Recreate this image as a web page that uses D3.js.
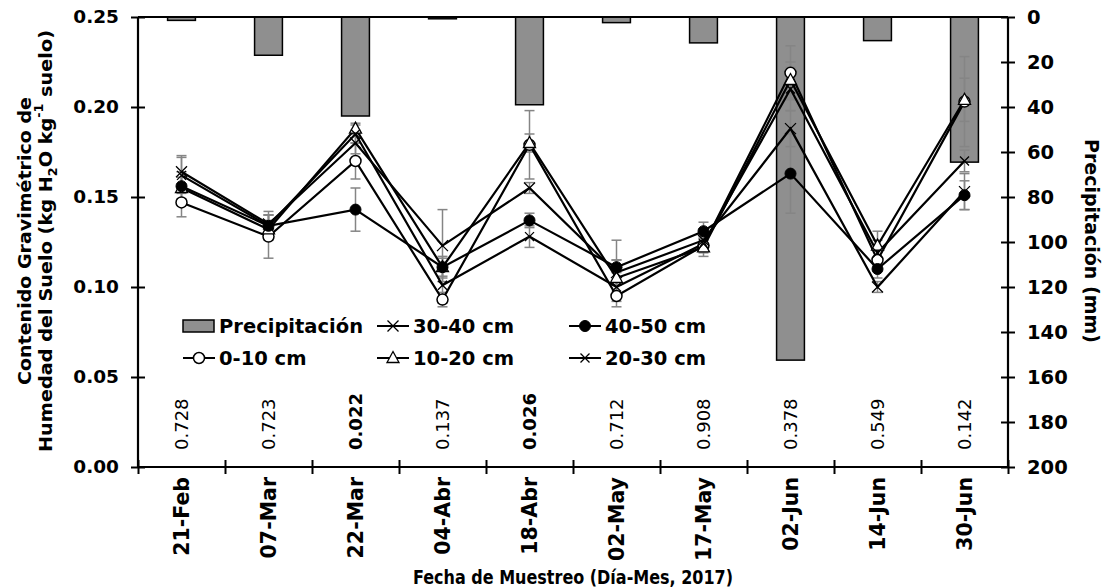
<!DOCTYPE html>
<html><head><meta charset="utf-8">
<script src="https://cdn.jsdelivr.net/npm/d3@7"></script>
<style>
body{margin:0;background:#fff;}
text{font-family:"DejaVu Sans",Verdana,sans-serif;}
</style></head>
<body><svg id="c" width="1107" height="588"></svg>
<script>
const categories = ["21-Feb","07-Mar","22-Mar","04-Abr","18-Abr","02-May","17-May","02-Jun","14-Jun","30-Jun"];
const precip = [1.5, 17, 44, 0.8, 39, 2.5, 11.5, 152.5, 10.5, 64.5];
const pValues = ["0.728","0.723","0.022","0.137","0.026","0.712","0.908","0.378","0.549","0.142"];
const s0_10  = [0.147,0.128,0.170,0.093,0.179,0.095,0.123,0.219,0.115,0.203];
const s10_20 = [0.155,0.132,0.188,0.111,0.180,0.105,0.122,0.215,0.123,0.204];
const s20_30 = [0.162,0.134,0.185,0.101,0.128,0.100,0.124,0.210,0.119,0.170];
const s30_40 = [0.164,0.135,0.180,0.123,0.155,0.108,0.126,0.188,0.100,0.153];
const s40_50 = [0.156,0.134,0.143,0.111,0.137,0.111,0.131,0.163,0.110,0.151];
const e0_10  = [0.008,0.012,0.010,0.004,0.019,0.006,0.004,0.015,0.006,0.025];
const e10_20 = [0.006,0.005,0.003,0.006,0.005,0.010,0.005,0.010,0.008,0.012];
const e20_30 = [0.010,0.006,0.005,0.010,0.006,0.008,0.004,0.012,0.007,0.006];
const e30_40 = [0.009,0.005,0.006,0.020,0.003,0.007,0.006,0.010,0.003,0.010];
const e40_50 = [0.008,0.008,0.012,0.005,0.004,0.015,0.005,0.022,0.005,0.008];
const leftTicks = [0,0.05,0.10,0.15,0.20,0.25];
const rightTicks = [0,20,40,60,80,100,120,140,160,180,200];

const series = [
  {name:"0-10 cm", v:s0_10, e:e0_10, m:"ocircle"},
  {name:"10-20 cm", v:s10_20, e:e10_20, m:"otri"},
  {name:"20-30 cm", v:s20_30, e:e20_30, m:"xsmall"},
  {name:"30-40 cm", v:s30_40, e:e30_40, m:"xbig"},
  {name:"40-50 cm", v:s40_50, e:e40_50, m:"fcircle"}
];

const L=138, R=1008, T=17, B=467;
const svg = d3.select("#c");
const x = d3.scaleBand().domain(categories).range([L,R]).padding(0);
const xb = d3.scaleLinear().domain([0,categories.length]).range([L,R]);
const y = d3.scaleLinear().domain([0,0.25]).range([B,T]);
const y2 = d3.scaleLinear().domain([0,200]).range([T,B]);
const cx = d => x(d)+x.bandwidth()/2;

// bars
const bw = x.bandwidth()*0.32;
svg.append("g").selectAll("rect").data(categories).join("rect")
  .attr("x", (d)=>cx(d)-bw/2).attr("y", y2(0))
  .attr("width", bw).attr("height", (d,i)=>y2(precip[i])-y2(0))
  .attr("fill","#8f8f8f").attr("stroke","#000").attr("stroke-width",1.5);

// top border
svg.append("line").attr("x1",L).attr("x2",R).attr("y1",T).attr("y2",T).attr("stroke","#000").attr("stroke-width",2);

// p-values
svg.append("g").selectAll("text").data(categories).join("text")
  .attr("transform",(d)=>`translate(${cx(d)},450) rotate(-90)`)
  .attr("text-anchor","start").attr("dominant-baseline","central")
  .attr("font-size",18).attr("fill","#000")
  .attr("font-weight",(d,i)=>+pValues[i]<0.05?"bold":"normal")
  .text((d,i)=>pValues[i]);

// error bars
const eg = svg.append("g");
series.forEach(s=>{
  categories.forEach((c,i)=>{
    const X=cx(c), y1=y(s.v[i]-s.e[i]), yt=y(s.v[i]+s.e[i]);
    eg.append("line").attr("x1",X).attr("x2",X).attr("y1",y1).attr("y2",yt).attr("stroke","#858585").attr("stroke-width",1.5);
    [y1,yt].forEach(yy=>eg.append("line").attr("x1",X-5).attr("x2",X+5).attr("y1",yy).attr("y2",yy).attr("stroke","#858585").attr("stroke-width",1.5));
  });
});

// lines
const line = d3.line().x((d,i)=>cx(categories[i])).y(d=>y(d));
series.forEach(s=>{
  svg.append("path").datum(s.v).attr("d",line).attr("fill","none").attr("stroke","#000").attr("stroke-width",2.2);
});

function marker(g, type, X, Y){
  if(type==="ocircle") g.append("circle").attr("cx",X).attr("cy",Y).attr("r",5.5).attr("fill","#fff").attr("stroke","#000").attr("stroke-width",1.5);
  else if(type==="fcircle") g.append("circle").attr("cx",X).attr("cy",Y).attr("r",5.5).attr("fill","#000").attr("stroke","#000").attr("stroke-width",1);
  else if(type==="otri") g.append("path").attr("d",`M${X},${Y-6.5}L${X+6},${Y+4.5}L${X-6},${Y+4.5}Z`).attr("fill","#fff").attr("stroke","#000").attr("stroke-width",1.3);
  else {
    const h = type==="xbig"?5.5:4.5;
    g.append("path").attr("d",`M${X-h},${Y-h}L${X+h},${Y+h}M${X-h},${Y+h}L${X+h},${Y-h}`).attr("stroke","#000").attr("stroke-width",1.3).attr("fill","none");
  }
}
const mg = svg.append("g");
series.forEach(s=>{ s.v.forEach((v,i)=>marker(mg,s.m,cx(categories[i]),y(v))); });

// axes
const ax = svg.append("g").attr("transform",`translate(${L},0)`)
  .call(d3.axisLeft(y).tickValues(leftTicks).tickFormat(d3.format(".2f")).tickSize(7).tickPadding(12));
ax.selectAll(".tick line").attr("x1",-7).attr("x2",7).attr("stroke-width",2);
ax.select(".domain").attr("d",`M0,${T}V${B}`).attr("stroke-width",2.2);
ax.selectAll("text").attr("font-size",18.5).attr("font-weight","bold").attr("font-family","DejaVu Sans").attr("fill","#000");

const ar = svg.append("g").attr("transform",`translate(${R},0)`)
  .call(d3.axisRight(y2).tickValues(rightTicks).tickFormat(d3.format("d")).tickSize(7).tickPadding(12));
ar.selectAll(".tick line").attr("x1",-7).attr("x2",7).attr("stroke-width",2);
ar.select(".domain").attr("d",`M0,${T}V${B}`).attr("stroke-width",2.2);
ar.selectAll("text").attr("font-size",19.5).attr("font-weight","bold").attr("font-family","DejaVu Sans").attr("fill","#000");

const abt = svg.append("g").attr("transform",`translate(0,${B})`)
  .call(d3.axisBottom(xb).tickValues(d3.range(categories.length+1)).tickFormat("").tickSize(7));
abt.selectAll(".tick line").attr("y1",-7).attr("y2",7).attr("stroke-width",2);
abt.select(".domain").attr("d",`M${L},0H${R}`).attr("stroke-width",2.2);

const abl = svg.append("g").attr("transform",`translate(0,${B})`)
  .call(d3.axisBottom(x).tickSize(0).tickPadding(0));
abl.select(".domain").remove();
abl.selectAll("text").attr("font-size",20.5).attr("font-weight","bold").attr("font-family","DejaVu Sans").attr("fill","#000")
  .attr("transform","translate(0,10) rotate(-90)").attr("text-anchor","end").attr("dy","0.35em").attr("x",0).attr("y",0);

// titles
const lt = svg.append("text").attr("transform","translate(25,241) rotate(-90)").attr("text-anchor","middle")
  .attr("font-size",17.5).attr("font-weight","bold").attr("dominant-baseline","central")
  .attr("textLength",288).attr("lengthAdjust","spacingAndGlyphs");
lt.text("Contenido Gravimétrico de");
const lt2 = svg.append("text").attr("transform","translate(46,241) rotate(-90)").attr("text-anchor","middle")
  .attr("font-size",17.5).attr("font-weight","bold").attr("dominant-baseline","central")
  .attr("textLength",422).attr("lengthAdjust","spacingAndGlyphs");
lt2.append("tspan").text("Humedad del Suelo (kg H");
lt2.append("tspan").attr("font-size",11.5).attr("baseline-shift","sub").text("2");
lt2.append("tspan").text("O kg");
lt2.append("tspan").attr("font-size",11.5).attr("baseline-shift","super").text("-1");
lt2.append("tspan").text(" suelo)");

svg.append("text").attr("transform","translate(1092,241) rotate(90)").attr("text-anchor","middle")
  .attr("font-size",19).attr("font-weight","bold").attr("dominant-baseline","central").text("Precipitación (mm)");

svg.append("text").attr("x",573).attr("y",577).attr("text-anchor","middle").attr("dominant-baseline","central")
  .attr("font-size",19).attr("font-weight","bold").attr("textLength",320).attr("lengthAdjust","spacingAndGlyphs")
  .text("Fecha de Muestreo (Día-Mes, 2017)");

// legend
const lg = svg.append("g");
const legItems = [
  {t:"Precipitación", m:"bar", x:183, y:326},
  {t:"30-40 cm", m:"xbig", x:377, y:326},
  {t:"40-50 cm", m:"fcircle", x:569, y:326},
  {t:"0-10 cm", m:"ocircle", x:183, y:358},
  {t:"10-20 cm", m:"otri", x:377, y:358},
  {t:"20-30 cm", m:"xsmall", x:569, y:358}
];
legItems.forEach(it=>{
  if(it.m==="bar"){
    lg.append("rect").attr("x",it.x).attr("y",it.y-6).attr("width",31).attr("height",12).attr("fill","#8f8f8f").attr("stroke","#000").attr("stroke-width",1.5);
  } else {
    lg.append("line").attr("x1",it.x).attr("x2",it.x+32).attr("y1",it.y).attr("y2",it.y).attr("stroke","#000").attr("stroke-width",2);
    marker(lg,it.m,it.x+16,it.y);
  }
  lg.append("text").attr("x",it.x+36).attr("y",it.y).attr("dominant-baseline","central")
    .attr("font-size",19.5).attr("font-weight","bold").text(it.t);
});
</script></body></html>
